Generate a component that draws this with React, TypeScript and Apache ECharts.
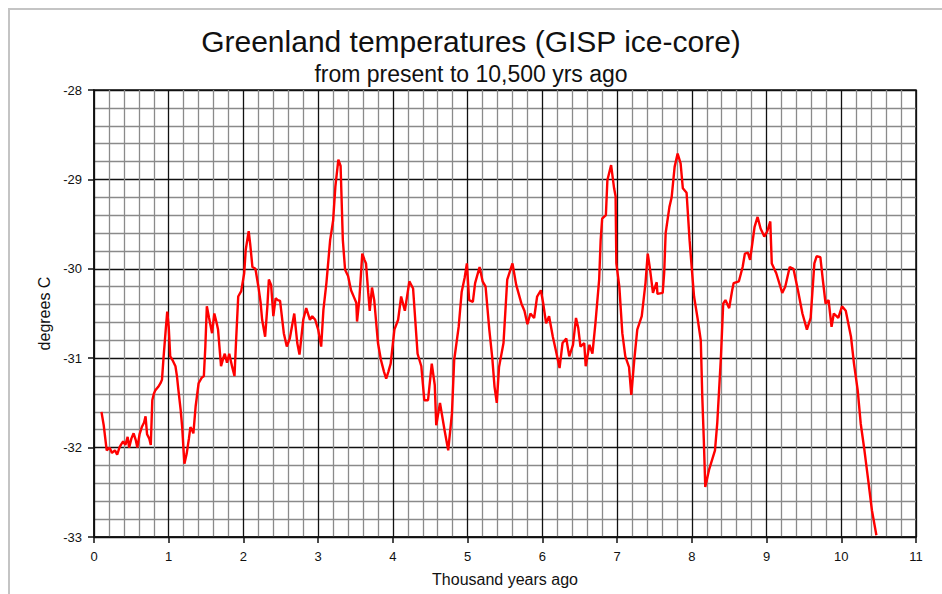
import React, { useEffect, useRef } from "react";
import * as echarts from "echarts";

const titleText = "Greenland temperatures (GISP ice-core)";
const subtitleText = "from present to 10,500 yrs ago";
const xAxisName = "Thousand years ago";
const yAxisName = "degrees C";

// thousand years ago
const years: number[] = [
  0.10, 0.13, 0.17, 0.21, 0.24, 0.28, 0.31, 0.34, 0.36, 0.39,
  0.42, 0.45, 0.47, 0.50, 0.53, 0.56, 0.58, 0.61, 0.64, 0.67,
  0.69, 0.71, 0.74, 0.76, 0.78, 0.80, 0.82, 0.86, 0.89, 0.91,
  0.93, 0.96, 0.98, 1.00, 1.02, 1.05, 1.09, 1.11, 1.13, 1.16,
  1.18, 1.20, 1.21, 1.24, 1.27, 1.29, 1.31, 1.33, 1.36, 1.40,
  1.44, 1.47, 1.49, 1.51, 1.54, 1.58, 1.61, 1.64, 1.66, 1.70,
  1.73, 1.75, 1.78, 1.81, 1.85, 1.88, 1.90, 1.93, 1.97, 2.01,
  2.03, 2.07, 2.09, 2.12, 2.16, 2.20, 2.23, 2.25, 2.29, 2.32,
  2.34, 2.37, 2.40, 2.43, 2.46, 2.49, 2.54, 2.58, 2.62, 2.68,
  2.72, 2.75, 2.80, 2.84, 2.89, 2.92, 2.96, 3.00, 3.04, 3.07,
  3.11, 3.16, 3.18, 3.20, 3.23, 3.27, 3.30, 3.33, 3.36, 3.40,
  3.44, 3.48, 3.51, 3.52, 3.55, 3.59, 3.62, 3.64, 3.67, 3.69,
  3.72, 3.75, 3.80, 3.84, 3.88, 3.91, 3.94, 3.97, 4.02, 4.07,
  4.11, 4.16, 4.22, 4.27, 4.33, 4.38, 4.42, 4.47, 4.52, 4.56,
  4.58, 4.63, 4.69, 4.74, 4.79, 4.82, 4.88, 4.92, 4.96, 4.99,
  5.02, 5.07, 5.10, 5.16, 5.20, 5.24, 5.29, 5.33, 5.36, 5.39,
  5.42, 5.48, 5.53, 5.60, 5.65, 5.72, 5.76, 5.80, 5.84, 5.89,
  5.93, 5.98, 6.01, 6.05, 6.09, 6.14, 6.18, 6.23, 6.27, 6.32,
  6.36, 6.41, 6.45, 6.48, 6.51, 6.56, 6.58, 6.63, 6.67, 6.71,
  6.76, 6.78, 6.80, 6.85, 6.87, 6.92, 6.96, 6.98, 6.99, 7.03,
  7.07, 7.11, 7.16, 7.19, 7.23, 7.27, 7.33, 7.38, 7.41, 7.44,
  7.48, 7.53, 7.54, 7.61, 7.63, 7.65, 7.70, 7.73, 7.77, 7.81,
  7.85, 7.88, 7.93, 7.97, 8.00, 8.03, 8.08, 8.12, 8.14, 8.16,
  8.18, 8.23, 8.31, 8.34, 8.39, 8.42, 8.45, 8.50, 8.54, 8.56,
  8.63, 8.68, 8.71, 8.75, 8.78, 8.84, 8.88, 8.92, 8.97, 9.01,
  9.05, 9.07, 9.13, 9.21, 9.25, 9.31, 9.36, 9.42, 9.48, 9.54,
  9.59, 9.64, 9.67, 9.72, 9.75, 9.79, 9.83, 9.87, 9.90, 9.96,
  10.01, 10.06, 10.13, 10.17, 10.22, 10.26, 10.31, 10.36, 10.41, 10.47,
];

// degrees C
const temps: number[] = [
  -31.60, -31.75, -32.03, -32.00, -32.06, -32.03, -32.08, -32.00, -31.97, -31.93,
  -31.97, -31.88, -32.00, -31.90, -31.84, -31.92, -32.00, -31.85, -31.77, -31.72,
  -31.65, -31.85, -31.90, -31.97, -31.47, -31.40, -31.36, -31.32, -31.28, -31.24,
  -31.00, -30.68, -30.48, -30.65, -30.98, -31.02, -31.09, -31.20, -31.36, -31.58,
  -31.77, -32.05, -32.18, -32.07, -31.90, -31.77, -31.80, -31.84, -31.54, -31.28,
  -31.22, -31.20, -30.87, -30.42, -30.55, -30.72, -30.50, -30.60, -30.68, -31.09,
  -31.00, -30.95, -31.05, -30.95, -31.10, -31.20, -30.83, -30.31, -30.25, -30.05,
  -29.79, -29.58, -29.72, -29.98, -30.00, -30.20, -30.38, -30.57, -30.76, -30.42,
  -30.12, -30.18, -30.53, -30.33, -30.35, -30.36, -30.72, -30.87, -30.78, -30.50,
  -30.83, -30.96, -30.57, -30.44, -30.57, -30.53, -30.57, -30.68, -30.87, -30.46,
  -30.16, -29.68, -29.57, -29.46, -29.08, -28.78, -28.85, -29.68, -30.01, -30.08,
  -30.24, -30.32, -30.38, -30.59, -30.35, -29.83, -29.90, -29.94, -30.27, -30.47,
  -30.21, -30.35, -30.83, -31.02, -31.15, -31.23, -31.15, -31.06, -30.68, -30.57,
  -30.31, -30.47, -30.14, -30.22, -30.95, -31.09, -31.47, -31.47, -31.06, -31.30,
  -31.75, -31.50, -31.80, -32.03, -31.62, -31.02, -30.65, -30.26, -30.10, -29.94,
  -30.35, -30.37, -30.16, -29.98, -30.14, -30.20, -30.68, -31.00, -31.32, -31.50,
  -31.10, -30.83, -30.12, -29.94, -30.18, -30.39, -30.47, -30.62, -30.50, -30.55,
  -30.31, -30.24, -30.38, -30.61, -30.53, -30.76, -30.91, -31.11, -30.83, -30.78,
  -30.98, -30.85, -30.55, -30.66, -30.87, -30.83, -31.09, -30.85, -30.95, -30.61,
  -30.12, -29.68, -29.44, -29.40, -29.01, -28.84, -29.10, -29.19, -29.94, -30.20,
  -30.72, -30.98, -31.10, -31.41, -31.02, -30.68, -30.53, -30.16, -29.83, -30.00,
  -30.27, -30.15, -30.28, -30.27, -30.05, -29.60, -29.31, -29.20, -28.86, -28.71,
  -28.82, -29.10, -29.15, -29.68, -30.00, -30.31, -30.57, -30.80, -31.43, -31.90,
  -32.44, -32.25, -32.03, -31.73, -30.98, -30.39, -30.35, -30.44, -30.24, -30.16,
  -30.14, -29.98, -29.83, -29.82, -29.90, -29.53, -29.42, -29.55, -29.64, -29.58,
  -29.47, -29.94, -30.05, -30.27, -30.20, -29.98, -30.00, -30.24, -30.50, -30.68,
  -30.55, -29.94, -29.86, -29.87, -30.10, -30.39, -30.35, -30.65, -30.50, -30.55,
  -30.42, -30.47, -30.76, -31.06, -31.36, -31.73, -32.03, -32.36, -32.70, -32.98,
];

const xMin = 0;
const xMax = 11;
const yMin = -33;
const yMax = -28;

const FONT = "Liberation Sans, Arial, sans-serif";

export default function App() {
  const ref = useRef<HTMLDivElement>(null);

  useEffect(() => {
    if (!ref.current) return;
    const chart = echarts.init(ref.current, undefined, { renderer: "svg" });
    const data = years.map((y, i) => [y, temps[i]]);
    chart.setOption({
      animation: false,
      backgroundColor: "#ffffff",
      title: [
        {
          text: titleText,
          left: "center",
          top: 21,
          textStyle: { fontFamily: FONT, fontSize: 30, fontWeight: "normal", color: "#111" },
        },
        {
          text: subtitleText,
          left: "center",
          top: 57,
          textStyle: { fontFamily: FONT, fontSize: 23, fontWeight: "normal", color: "#111" },
        },
      ],
      graphic: [
        {
          type: "rect",
          shape: { x: 9, y: 9, width: 1000, height: 1000 },
          style: { fill: "none", stroke: "#c4c4c4", lineWidth: 2 },
          silent: true,
        },
      ],
      grid: {
        left: 94,
        right: 26,
        top: 90,
        bottom: 57,
        show: true,
        borderColor: "#111",
        borderWidth: 1.5,
        backgroundColor: "transparent",
      },
      xAxis: {
        type: "value",
        min: xMin,
        max: xMax,
        interval: 1,
        name: xAxisName,
        nameLocation: "middle",
        nameGap: 34,
        nameTextStyle: { fontFamily: FONT, fontSize: 16, color: "#111" },
        axisLine: { show: true, lineStyle: { color: "#111", width: 1.5 } },
        axisTick: { show: true, inside: false, length: 6, lineStyle: { color: "#111", width: 1.5 } },
        axisLabel: { fontFamily: FONT, fontSize: 13, color: "#111", margin: 13 },
        splitLine: { show: true, lineStyle: { color: "#111", width: 1.3 } },
        minorTick: { show: false, splitNumber: 5 },
        minorSplitLine: { show: true, lineStyle: { color: "#8a8a8a", width: 1.3 } },
      },
      yAxis: {
        type: "value",
        min: yMin,
        max: yMax,
        interval: 1,
        name: yAxisName,
        nameLocation: "middle",
        nameGap: 38,
        nameRotate: 90,
        nameTextStyle: { fontFamily: FONT, fontSize: 16, color: "#111" },
        axisLine: { show: true, lineStyle: { color: "#111", width: 1.5 } },
        axisTick: { show: true, inside: false, length: 6, lineStyle: { color: "#111", width: 1.5 } },
        axisLabel: { fontFamily: FONT, fontSize: 13, color: "#111", margin: 12 },
        splitLine: { show: true, lineStyle: { color: "#111", width: 1.3 } },
        minorTick: { show: false, splitNumber: 5 },
        minorSplitLine: { show: true, lineStyle: { color: "#8a8a8a", width: 1.3 } },
      },
      series: [
        {
          type: "line",
          data,
          showSymbol: false,
          symbol: "none",
          lineStyle: { color: "#ff0000", width: 2.4 },
          z: 5,
        },
      ],
    });
    return () => chart.dispose();
  }, []);

  return (
    <div
      ref={ref}
      style={{ position: "fixed", left: 0, top: 0, width: 942, height: 594 }}
    />
  );
}
